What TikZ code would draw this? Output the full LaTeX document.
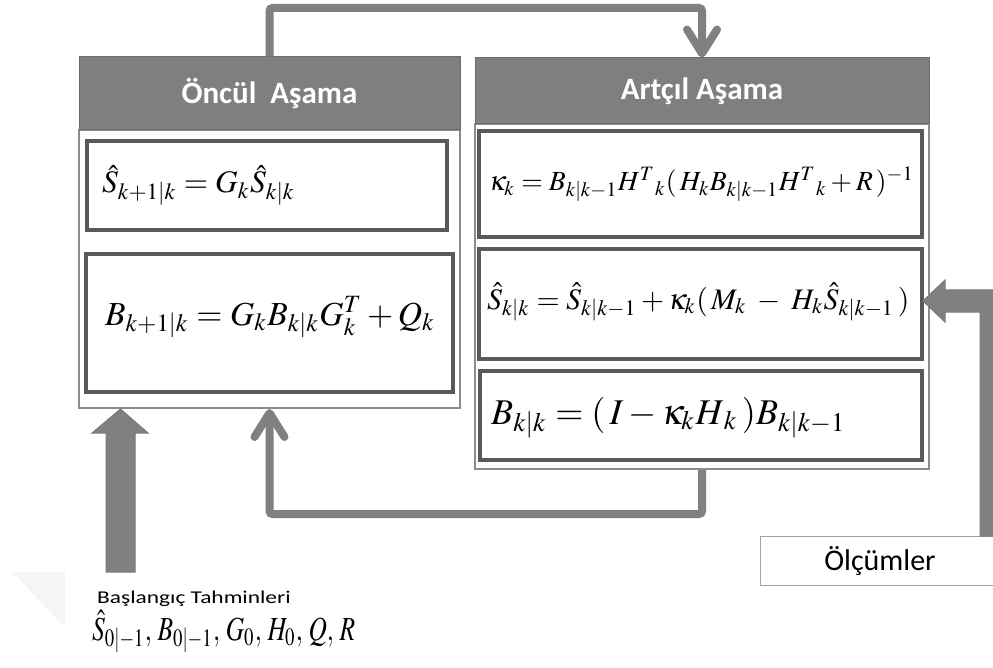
\documentclass[tikz,border=0pt]{standalone}
\usepackage{mathptmx}
\usepackage[no-math]{fontspec}
\setmainfont{Carlito}
\usepackage{graphicx}
\usetikzlibrary{arrows.meta,calc}
\definecolor{hdr}{HTML}{7F7F7F}
\definecolor{bord}{HTML}{595959}
\definecolor{pan}{HTML}{8C8C8C}
\definecolor{arr}{HTML}{808080}
\begin{document}
\begin{tikzpicture}[x=1pt,y=-1pt,
  hdrbox/.style={draw=hdr!85!black, fill=hdr, line width=1pt, inner sep=0pt, text=white,
    font=\fontsize{31}{36}\selectfont\bfseries},
  panelbody/.style={draw=pan, line width=2pt, fill=white, inner sep=0pt},
  eqbox/.style={draw=bord, line width=4pt, fill=white, inner sep=0pt},
  eqtext/.style={anchor=base west, inner sep=0pt},
  conn/.style={draw=arr, line width=8pt, rounded corners=3pt,
    -{Straight Barb[round,length=24pt,width=30pt]}},
  blockarr/.style={fill=arr, draw=bord!80, line width=1pt, line join=miter},
  plainbox/.style={draw=pan!80, line width=1pt, fill=white, inner sep=0pt}
]
\useasboundingbox (0,0) rectangle (993,668);
\clip (0,0) rectangle (993,668);
\fill[white] (0,0) rectangle (993,668);

% faint background triangle
\fill[gray!8] (12,572) -- (65,572) -- (65,627) -- cycle;

% left panel
\node[panelbody, minimum width=381, minimum height=278] (lbody) at (269.5,269) {};
\node[hdrbox, minimum width=381, minimum height=73] (lhdr) at (269.5,93.5) {Öncül\ \ Aşama};
\node[eqbox, minimum width=360, minimum height=89] (eq1) at (267,185.5) {};
\node[eqbox, minimum width=367, minimum height=138] (eq2) at (269.5,323) {};

% right panel
\node[panelbody, minimum width=454, minimum height=345] (rbody) at (702,296.5) {};
\node[hdrbox, minimum width=454, minimum height=66] (rhdr) at (702,91) {Artçıl Aşama};
\node[eqbox, minimum width=443, minimum height=106] (eqK) at (700.5,184) {};
\node[eqbox, minimum width=443, minimum height=110] (eqS) at (700.5,304) {};
\node[eqbox, minimum width=442, minimum height=89] (eqB) at (701,415.5) {};

% formulas
\node[eqtext] (f1) at (102,193) {\resizebox{193pt}{!}{$\hat{S}_{k+1|k} = G_k\hat{S}_{k|k}$}};
\node[eqtext] (f2) at (105,325) {\resizebox{330pt}{!}{$B_{k+1|k} = G_k B_{k|k} G_k^T + Q_k$}};
\node[eqtext] (fK) at (489,191) {\resizebox{425pt}{!}{$\kappa_k = B_{k|k-1}H^{T}{}_{k}(\,H_kB_{k|k-1}H^{T}{}_{k}+R\,)^{-1}$}};
\node[eqtext] (fS) at (487,309) {\resizebox{422pt}{!}{$\hat{S}_{k|k} = \hat{S}_{k|k-1} + \kappa_k(\,M_k \;-\; H_k\hat{S}_{k|k-1}\,)$}};
\node[eqtext] (fB) at (491,424) {\resizebox{355pt}{!}{$B_{k|k} = (\,I - \kappa_k H_{\,k}\,)B_{k|k-1}$}};

% measurements box
\node[plainbox, minimum width=240, minimum height=49] (olc) at (880,560.5)
  {\fontsize{30}{34}\selectfont Ölçümler};

% initial estimates text
\node[anchor=base west, inner sep=0pt] (init) at (97,603)
  {\fontsize{18}{22}\selectfont\scalebox{1.3}[1]{Başlangıç Tahminleri}};
\node[eqtext] (initf) at (92,640) {\resizebox{263pt}{30pt}{$\hat{S}_{0|-1},\, B_{0|-1},\, G_0,\, H_0,\, Q,\, R$}};

% connectors
\draw[conn] (lhdr.north) -- ($(lhdr.north)+(0,-48.5)$) -| (rhdr.north);
\draw[conn] (rbody.south) -- ($(rbody.south)+(0,44)$) -| (lbody.south);

% initial block arrow
\draw[blockarr] (120.5,409) -- (148,433) -- (135,433) -- (135,572) -- (106,572) -- (106,433) -- (92,433) -- cycle;

% measurement block arrow
\draw[blockarr] (980,536) -- (980,312) -- (945,312) -- (945,322) -- (923,301)
  -- (945,280) -- (945,290) -- (1002,290) -- (1002,536) -- cycle;
\end{tikzpicture}
\end{document}
